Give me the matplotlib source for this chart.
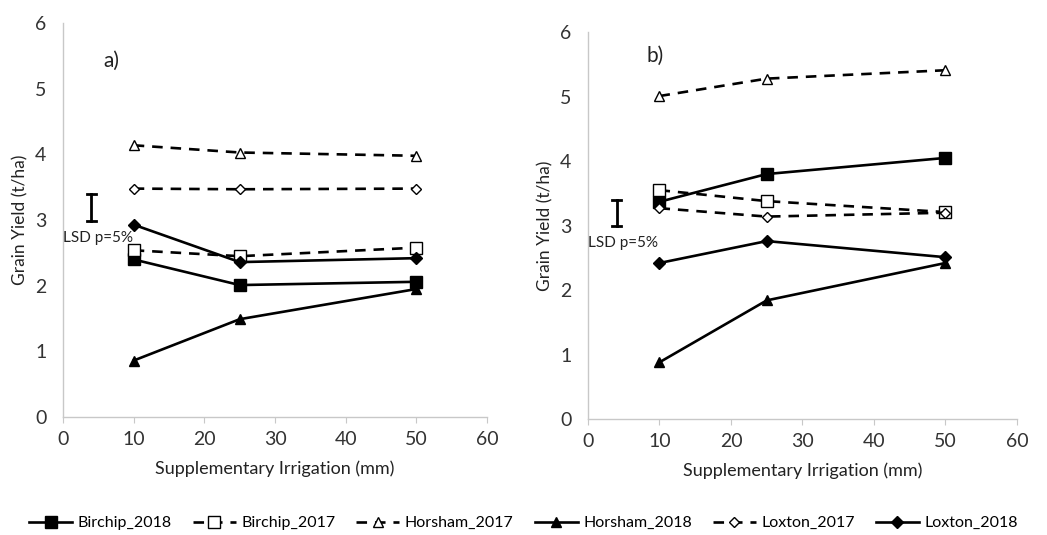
import matplotlib.pyplot as plt
from matplotlib.lines import Line2D

plt.rcParams['font.family'] = ['Lato', 'DejaVu Sans']

irrigation = [10, 25, 50]

# panel a)
a_birchip_2018 = [2.40, 2.01, 2.06]
a_birchip_2017 = [2.54, 2.45, 2.58]
a_horsham_2017 = [4.14, 4.03, 3.98]
a_horsham_2018 = [0.86, 1.49, 1.95]
a_loxton_2017 = [3.48, 3.47, 3.48]
a_loxton_2018 = [2.93, 2.36, 2.42]

# panel b)
b_birchip_2018 = [3.37, 3.80, 4.05]
b_birchip_2017 = [3.55, 3.38, 3.21]
b_horsham_2017 = [5.01, 5.28, 5.41]
b_horsham_2018 = [0.88, 1.84, 2.42]
b_loxton_2017 = [3.27, 3.14, 3.20]
b_loxton_2018 = [2.42, 2.76, 2.51]

lsd_x = 4
lsd_low, lsd_high = 2.99, 3.40

names = ['Birchip_2018', 'Birchip_2017', 'Horsham_2017', 'Horsham_2018', 'Loxton_2017', 'Loxton_2018']
styles = [
    dict(ls='-', marker='s', mfc='black', ms=8),
    dict(ls=(0, (4, 3)), marker='s', mfc='white', ms=8),
    dict(ls=(0, (4, 3)), marker='^', mfc='white', ms=7),
    dict(ls='-', marker='^', mfc='black', ms=7),
    dict(ls=(0, (4, 3)), marker='D', mfc='white', ms=5),
    dict(ls='-', marker='D', mfc='black', ms=6),
]

fig = plt.figure(figsize=(10.47, 5.35), dpi=100)
ax_a = fig.add_axes([0.0602, 0.2206, 0.405, 0.736])
ax_b = fig.add_axes([0.5616, 0.2168, 0.4097, 0.723])

panels = [
    (ax_a, [a_birchip_2018, a_birchip_2017, a_horsham_2017, a_horsham_2018, a_loxton_2017, a_loxton_2018], 'a)', 5.7, 5.43),
    (ax_b, [b_birchip_2018, b_birchip_2017, b_horsham_2017, b_horsham_2018, b_loxton_2017, b_loxton_2018], 'b)', 8.2, 5.63),
]

for ax, series, tag, tag_x, tag_y in panels:
    for vals, st in zip(series, styles):
        ax.plot(irrigation, vals, color='black', lw=1.9, mec='black', mew=1.0, **st)
    ax.plot([lsd_x, lsd_x], [lsd_low, lsd_high], color='black', lw=2)
    ax.plot([lsd_x - 0.6, lsd_x + 0.6], [lsd_low, lsd_low], color='black', lw=2)
    ax.plot([lsd_x - 0.6, lsd_x + 0.6], [lsd_high, lsd_high], color='black', lw=2)
    ax.text(0.0, 2.73, 'LSD p=5%', fontsize=11, color='#222222', va='center', ha='left')
    ax.text(tag_x, tag_y, tag, fontsize=15, color='#222222', va='center')
    ax.set_xlim(0, 60)
    ax.set_ylim(0, 6)
    ax.set_xticks(range(0, 61, 10))
    ax.set_yticks(range(0, 7))
    ax.spines['top'].set_visible(False)
    ax.spines['right'].set_visible(False)
    for s in ['left', 'bottom']:
        ax.spines[s].set_color('#c8c8c8')
        ax.spines[s].set_linewidth(1.0)
    ax.tick_params(axis='x', length=4, color='#c8c8c8', labelsize=14, labelcolor='#333333', pad=6)
    ax.tick_params(axis='y', length=0, labelsize=14, labelcolor='#333333', pad=12)
    ax.set_xlabel('Supplementary Irrigation (mm)', fontsize=13, color='#222222', labelpad=9)
    ax.set_ylabel('Grain Yield (t/ha)', fontsize=12.5, color='#222222', labelpad=5)

handles = [Line2D([0], [0], color='black', lw=1.9, mec='black', mew=1.0, **st) for st in styles]
fig.legend(handles, names, loc='center', bbox_to_anchor=(0.5, 0.022), ncol=6, frameon=False,
           fontsize=11.5, handlelength=2.7, columnspacing=1.3, handletextpad=0.35,
           borderaxespad=0, borderpad=0)

fig.savefig('out.png', dpi=100)
